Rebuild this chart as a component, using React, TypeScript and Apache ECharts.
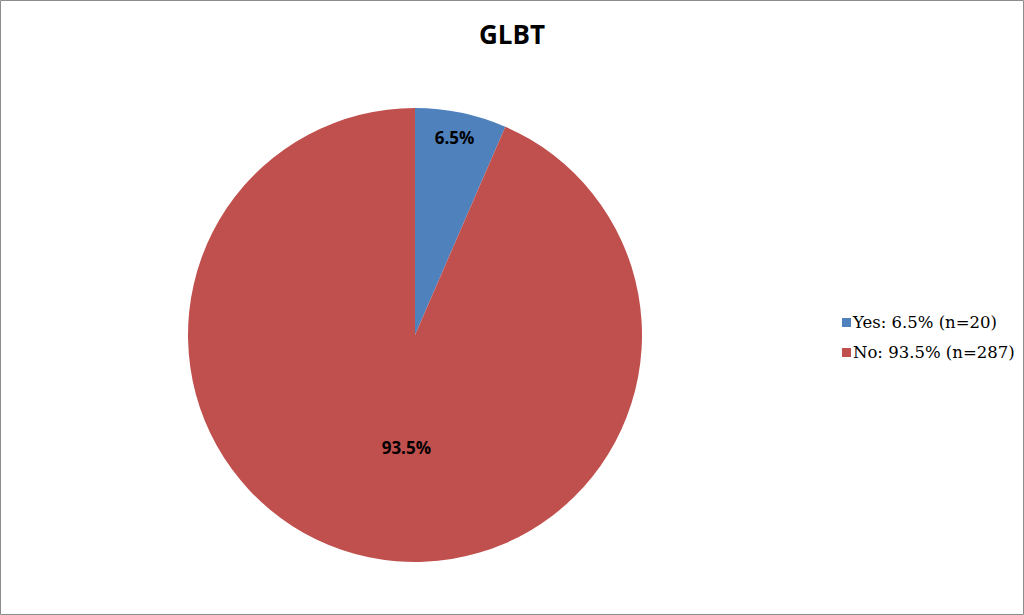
import React, { useEffect, useRef } from 'react';
import * as echarts from 'echarts';

const categories = ['Yes', 'No'];
const counts = [20, 287];
const colors = ['#4F81BD', '#C0504D'];

export default function App() {
    const chartRef = useRef<HTMLDivElement>(null);

    useEffect(() => {
        const chart = echarts.init(chartRef.current!, null, { renderer: 'svg' });
        const total = counts.reduce((a, b) => a + b, 0);
        const pct = (v: number) => ((v / total) * 100).toFixed(1) + '%';
        const legendNames = categories.map((c, i) => `${c}: ${pct(counts[i])} (n=${counts[i]})`);
        const data = categories.map((c, i) => ({
            name: legendNames[i],
            value: counts[i],
            itemStyle: { color: colors[i] },
        }));

        const labelStyle = {
            fontFamily: 'Open Sans',
            fontWeight: 'bold' as const,
            fontSize: 17,
            color: '#000',
            formatter: (p: any) => pct(p.value),
        };

        chart.setOption({
            animation: false,
            title: {
                text: 'GLBT',
                left: 'center',
                top: 16,
                textStyle: { fontFamily: 'Open Sans', fontWeight: 'bold', fontSize: 26, color: '#000' },
            },
            legend: {
                orient: 'vertical',
                left: 837,
                top: 309,
                itemWidth: 9,
                itemHeight: 9,
                itemGap: 13,
                icon: 'rect',
                data: legendNames,
                textStyle: { fontFamily: 'DejaVu Serif', fontSize: 16.5, color: '#000', padding: [0, 0, 0, -3] },
            },
            graphic: [
                {
                    type: 'rect',
                    shape: { x: 0.5, y: 0.5, width: 1023, height: 614 },
                    style: { fill: 'none', stroke: '#8c8c8c', lineWidth: 1 },
                    silent: true,
                },
            ],
            series: [
                {
                    type: 'pie',
                    center: [415, 335],
                    radius: [0, 227],
                    startAngle: 90,
                    silent: true,
                    data: data.map((d, i) => ({
                        ...d,
                        label: { show: i === 1, position: 'inside', offset: [15, -2], ...labelStyle },
                    })),
                    labelLine: { show: false },
                    itemStyle: { borderColor: '#fff', borderWidth: 0 },
                },
                {
                    type: 'pie',
                    center: [415, 335],
                    radius: [176, 227],
                    startAngle: 90,
                    silent: true,
                    legendHoverLink: false,
                    data: data.map((d, i) => ({
                        name: 'overlay-' + i,
                        value: d.value,
                        itemStyle: { color: 'transparent' },
                        label: { show: i === 0, position: 'inside', offset: [-2, 3], ...labelStyle },
                    })),
                    labelLine: { show: false },
                },
            ],
        });

        return () => {
            chart.dispose();
        };
    }, []);

    return (
        <div
            ref={chartRef}
            style={{ position: 'fixed', left: 0, top: 0, width: 1024, height: 615, background: '#fff' }}
        />
    );
}
